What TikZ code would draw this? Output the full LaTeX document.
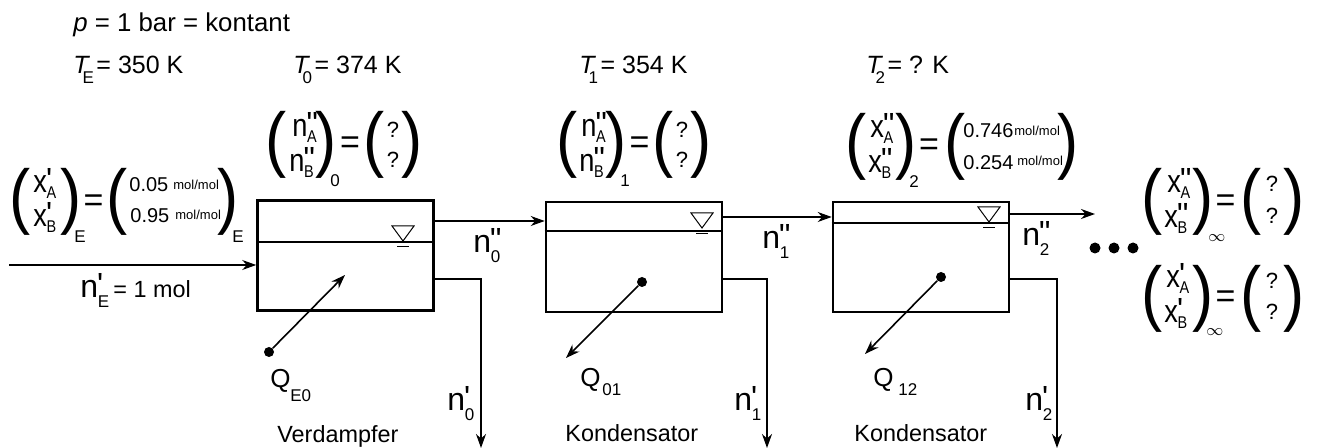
\documentclass[tikz,border=0pt]{standalone}
\usepackage{fontspec}
\setmainfont{Liberation Sans}
\newfontfamily\compfont{Liberation Sans}[FakeStretch=0.85]
\newfontfamily\parenfont{Liberation Sans}[FakeStretch=0.88]
\newfontfamily\primefont{Liberation Sans}
\usepackage{tikz}
\usetikzlibrary{arrows.meta, positioning, calc}

\newcommand{\pa}{{\primefont\char39}}
\newcommand{\pb}{{\primefont\char34}}
\newcommand{\subsize}{\fontsize{8.5}{10}\selectfont}
\newcommand{\sym}[4][3pt]{#2\rlap{\hspace{-0.03em}\raisebox{1pt}{#3}}\hspace{-0.01em}\raisebox{-#1}{\subsize #4}}
\newcommand{\tsym}[2]{\textit{#1}\hspace{-0.3em}\raisebox{-5pt}{\subsize #2}\hspace{0.1em}}

\tikzset{
  vessel/.style={draw, line width=1.3pt, minimum width=88pt, minimum height=55pt, inner sep=0pt},
  flow/.style={line width=0.8pt, -{Stealth[length=7pt, width=5pt]}},
  level/.style={line width=0.75pt},
  levelmark/.style={line width=0.5pt},
  dot/.style={circle, fill=black, inner sep=0pt, minimum size=5pt},
  bigdot/.style={circle, fill=black, inner sep=0pt, minimum size=5.5pt},
  caption/.style={inner sep=0pt, anchor=base west, font=\fontsize{11.7}{13}\selectfont},
  head/.style={inner sep=0pt, anchor=base west, font=\fontsize{12.9}{14}\selectfont},
  temp/.style={inner sep=0pt, anchor=base west, font=\fontsize{12.5}{14}\selectfont},
  stream/.style={inner sep=0pt, anchor=base west, font=\fontsize{16}{18}\selectfont},
  heatlbl/.style={inner sep=0pt, anchor=base west, font=\fontsize{13}{15}\selectfont},
  comp/.style={inner sep=0pt, anchor=base west, font=\compfont\fontsize{16}{18}\selectfont},
  paren/.style={inner sep=0pt, font=\parenfont\fontsize{36}{40}\selectfont},
  eqsign/.style={inner sep=0pt, font=\fontsize{17}{20}\selectfont},
  subs/.style={inner sep=0pt, anchor=base west, font=\subsize},
  quest/.style={inner sep=0pt, font=\fontsize{11}{13}\selectfont},
  numval/.style={inner sep=0pt, anchor=base west, font=\fontsize{10}{12}\selectfont},
  unit/.style={inner sep=0pt, anchor=base west, font=\fontsize{6.5}{8}\selectfont}
}

\begin{document}
\begin{tikzpicture}[x=0.5pt, y=-0.5pt]
    \useasboundingbox (0,0) rectangle (1318,448);

    % header
    \node[head] (hd) at (73,32) {\textit{p} = 1 bar = kontant};
    \node[temp] (tE) at (73,74) {\tsym{T}{E}= 350 K};
    \node[temp] (t0) at (293,74) {\tsym{T}{0}= 374 K};
    \node[temp] (t1) at (579,74) {\tsym{T}{1}= 354 K};
    \node[temp] (t2) at (866,74) {\tsym{T}{2}= ? K};

    % vessels
    \node[vessel] (v0) at (345.5,255.5) {};
    \node[vessel] (v1) at (634,257) {};
    \node[vessel] (v2) at (921,257) {};
    \coordinate (l0) at (345.5,242);
    \coordinate (l1) at (634,231);
    \coordinate (l2) at (921,223);
    \draw[level] (v0.west |- l0) -- (v0.east |- l0);
    \draw[level] (v1.west |- l1) -- (v1.east |- l1);
    \draw[level] (v2.west |- l2) -- (v2.east |- l2);
    \draw[levelmark] (392,226) -- (414,226) -- (403,241) -- cycle;
    \draw[levelmark] (397,247) -- (409,247);
    \draw[levelmark] (691,213) -- (713,213) -- (702,228) -- cycle;
    \draw[levelmark] (696,234) -- (708,234);
    \draw[levelmark] (978,207) -- (1000,207) -- (989,222) -- cycle;
    \draw[levelmark] (983,228) -- (995,228);

    % streams
    \coordinate (feed) at (9,265);
    \coordinate (g0) at (434,221);
    \coordinate (g1) at (723,217);
    \coordinate (g2) at (1095,214);
    \coordinate (b0) at (481,279);
    \coordinate (b1) at (767,279);
    \coordinate (b2) at (1057,279);
    \coordinate (out0) at (481,448);
    \coordinate (out1) at (767,448);
    \coordinate (out2) at (1057,448);
    \draw[flow] (feed) -- (feed -| v0.west);
    \draw[flow] (g0 -| v0.east) -- (g0 -| v1.west);
    \draw[flow] (g1 -| v1.east) -- (g1 -| v2.west);
    \draw[flow] (g2 -| v2.east) -- (g2);
    \draw[flow] (b0 -| v0.east) -- (b0) -- (out0);
    \draw[flow] (b1 -| v1.east) -- (b1) -- (out1);
    \draw[flow] (b2 -| v2.east) -- (b2) -- (out2);

    % heat
    \node[dot] (d0) at (269,352) {};
    \node[dot] (d1) at (642,282) {};
    \node[dot] (d2) at (941,277) {};
    \coordinate (h0) at (345,275);
    \coordinate (h1) at (566,358);
    \coordinate (h2) at (865,354);
    \draw[flow] (d0) -- (h0);
    \draw[flow] (d1) -- (h1);
    \draw[flow] (d2) -- (h2);

    % labels
    \node[heatlbl] (qE0) at (270,388) {Q};
    \node[subs] (sqE0) at (290,402) {E0};
    \node[heatlbl] (q01) at (580,387) {Q};
    \node[subs] (sq01) at (602,396) {01};
    \node[heatlbl] (q12) at (873,387) {Q};
    \node[subs] (sq12) at (898,396) {12};
    \node[caption] (lv0) at (277,443) {Verdampfer};
    \node[caption] (lv1) at (565,442) {Kondensator};
    \node[caption] (lv2) at (854,442) {Kondensator};
    \node[stream] (ng0) at (473,253) {\sym[5pt]{n}{\pb}{0}};
    \node[stream] (ng1) at (762,249) {\sym[5pt]{n}{\pb}{1}};
    \node[stream] (ng2) at (1022,246) {\sym[5pt]{n}{\pb}{2}};
    \node[stream] (nl0) at (447,411) {\sym[5pt]{n}{\pa}{0}};
    \node[stream] (nl1) at (734,411) {\sym[5pt]{n}{\pa}{1}};
    \node[stream] (nl2) at (1025,411) {\sym[5pt]{n}{\pa}{2}};
    \node[stream] (nE) at (80,298) {\sym[5pt]{n}{\pa}{E}};
    \node[caption] (nEv) at (113,298) {= 1 mol};

    % feed composition
    \node[paren] (pE1) at (20.5,202) {(};
    \node[comp] (xEa) at (33,193) {\sym{x}{\pa}{A}};
    \node[comp] (xEb) at (33,227) {\sym{x}{\pa}{B}};
    \node[paren] (pE2) at (71,202) {)};
    \node[subs] (sE1) at (74,243) {E};
    \node[eqsign] (eE) at (93.5,203) {=};
    \node[paren] (pE3) at (117,202) {(};
    \node[numval] (vEa) at (129,192) {0.05};
    \node[unit] (uEa) at (173,190) {mol/mol};
    \node[numval] (vEb) at (130,223) {0.95};
    \node[unit] (uEb) at (175,220) {mol/mol};
    \node[paren] (pE4) at (228.5,202) {)};
    \node[subs] (sE2) at (232,243) {E};

    % vapour 0
    \node[paren] (p01) at (276,145) {(};
    \node[comp] (n0a) at (292,137) {\sym{n}{\pb}{A}};
    \node[comp] (n0b) at (289,172) {\sym{n}{\pb}{B}};
    \node[paren] (p02) at (326.5,145) {)};
    \node[subs] (s0) at (330,187) {0};
    \node[eqsign] (e0) at (350,145) {=};
    \node[paren] (p03) at (373.7,145) {(};
    \node[quest] (q0a) at (393,130) {?};
    \node[quest] (q0b) at (393,160) {?};
    \node[paren] (p04) at (412,145) {)};

    % vapour 1
    \node[paren] (p11) at (567,145) {(};
    \node[comp] (n1a) at (581,137) {\sym{n}{\pb}{A}};
    \node[comp] (n1b) at (579,172) {\sym{n}{\pb}{B}};
    \node[paren] (p12) at (616.5,145) {)};
    \node[subs] (s1) at (620,187) {1};
    \node[eqsign] (e1) at (639.5,145) {=};
    \node[paren] (p13) at (663.5,145) {(};
    \node[quest] (q1a) at (682,130) {?};
    \node[quest] (q1b) at (682,160) {?};
    \node[paren] (p14) at (701.5,145) {)};

    % vapour 2
    \node[paren] (p21) at (856,147) {(};
    \node[comp] (x2a) at (870,138) {\sym{x}{\pb}{A}};
    \node[comp] (x2b) at (868,173) {\sym{x}{\pb}{B}};
    \node[paren] (p22) at (906,147) {)};
    \node[subs] (s2) at (909,188) {2};
    \node[eqsign] (e2) at (929,147) {=};
    \node[paren] (p23) at (955,147) {(};
    \node[numval] (v2a) at (963,138) {0.746};
    \node[unit] (u2a) at (1014,136) {mol/mol};
    \node[numval] (v2b) at (963,170) {0.254};
    \node[unit] (u2b) at (1017,166) {mol/mol};
    \node[paren] (p24) at (1068,147) {)};

    % dots
    \node[bigdot] (c1) at (1095,248) {};
    \node[bigdot] (c2) at (1114,248) {};
    \node[bigdot] (c3) at (1133,248) {};

    % limit
    \node[paren] (pi1) at (1152.5,202) {(};
    \node[comp] (xia) at (1167,193) {\sym{x}{\pb}{A}};
    \node[comp] (xib) at (1164,228) {\sym{x}{\pb}{B}};
    \node[paren] (pi2) at (1203,202) {)};
    \node[subs] (si1) at (1208,242) {$\infty$};
    \node[eqsign] (ei1) at (1225.5,203) {=};
    \node[paren] (pi3) at (1251,202) {(};
    \node[quest] (qia) at (1272,184) {?};
    \node[quest] (qib) at (1272,216) {?};
    \node[paren] (pi4) at (1294,202) {)};

    \node[paren] (pj1) at (1152.5,299) {(};
    \node[comp] (xja) at (1166,288) {\sym{x}{\pa}{A}};
    \node[comp] (xjb) at (1164,323) {\sym{x}{\pa}{B}};
    \node[paren] (pj2) at (1203,299) {)};
    \node[subs] (sj1) at (1206,336) {$\infty$};
    \node[eqsign] (ej1) at (1225.5,299) {=};
    \node[paren] (pj3) at (1251,299) {(};
    \node[quest] (qja) at (1272,281) {?};
    \node[quest] (qjb) at (1272,312) {?};
    \node[paren] (pj4) at (1294,299) {)};
\end{tikzpicture}
\end{document}
